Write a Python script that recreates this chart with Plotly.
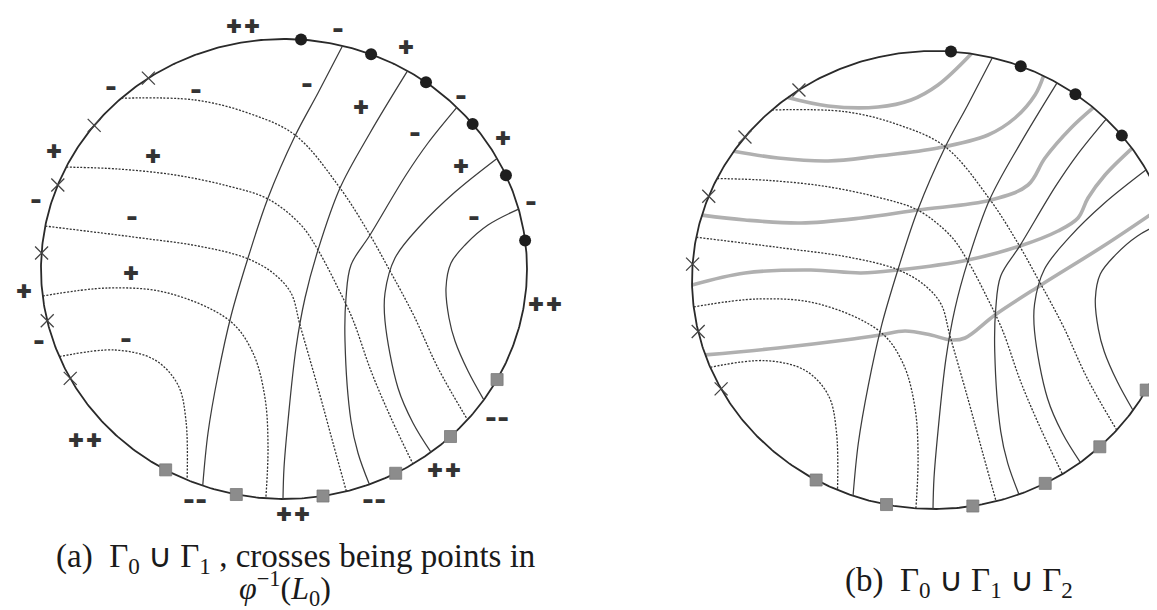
import math
import plotly.graph_objects as go

# ---- panel geometry (ellipse centre / radii in page pixels) ----
PANEL_A = (276, 261, 243, 230)
PANEL_B = (926, 272, 242, 229)

# ---- Gamma_0 : solid curves (read in panel (a) pixels) ----
S1 = [(334, 40), (310, 85), (287, 128), (260, 190), (240, 250), (223, 308), (210, 367), (200, 425), (195, 477)]
S2 = [(397, 67), (362, 125), (332, 180), (310, 242), (297, 290), (288, 340), (280, 413), (276, 460), (275, 490)]
S3 = [(445, 103), (420, 135), (398, 167), (362, 227), (343, 257), (338, 290), (337, 333), (343, 413), (350, 445), (360, 473)]
S4 = [(484, 153), (447, 184), (413, 217), (387, 250), (377, 285), (377, 313), (390, 380), (405, 415), (422, 443)]
S5 = [(507, 202), (480, 217), (458, 236), (443, 255), (438, 280), (441, 310), (447, 333), (460, 363), (473, 390)]
GAMMA0 = [S1, S2, S3, S4, S5]

# ---- Gamma_1 : dotted curves (panel (a) pixels) ----
D1 = [(113, 90), (187, 92), (240, 105), (287, 127), (332, 180), (362, 227), (382, 263), (393, 283), (407, 310), (430, 360), (455, 408)]
D2 = [(58, 159), (110, 161), (167, 167), (220, 178), (260, 191), (293, 217), (310, 242), (330, 280), (345, 312), (363, 363), (383, 410), (403, 453)]
D3 = [(37, 218), (133, 230), (190, 238), (238, 250), (265, 265), (283, 285), (292, 317), (310, 380), (325, 435), (338, 482)]
D4 = [(35, 288), (100, 280), (160, 285), (222, 313), (245, 345), (257, 390), (260, 440), (258, 488)]
D5 = [(53, 348), (107, 342), (147, 352), (170, 377), (178, 413), (180, 470)]
GAMMA1 = [D1, D2, D3, D4, D5]

# ---- Gamma_2 : grey curves (panel (b) pixels) ----
G1 = [(780, 90), (820, 98), (870, 99), (903, 92), (930, 77), (963, 48)]
G2 = [(727, 144), (770, 150), (820, 153), (870, 148), (930, 140), (980, 127), (1007, 110), (1027, 87), (1036, 67)]
G3 = [(697, 208), (737, 212), (793, 215), (853, 210), (910, 202), (983, 192), (1020, 177), (1037, 150), (1063, 120), (1085, 100)]
G4 = [(685, 277), (737, 265), (803, 262), (853, 265), (890, 262), (960, 252), (1012, 238), (1050, 223), (1070, 210), (1080, 190), (1097, 167), (1120, 143)]
G5 = [(697, 347), (770, 340), (837, 332), (872, 327), (897, 323), (923, 327), (943, 332), (957, 330), (987, 307), (1033, 277), (1097, 237), (1155, 198)]
GAMMA2 = [G1, G2, G3, G4, G5]

# ---- boundary marks (panel (a) pixels) ----
DOTS = [(293, 32), (362, 49), (416, 77), (462, 118), (494, 169), (513, 233)]
SQUARES = [(157, 463), (228, 488), (315, 488), (387, 464), (441, 427), (488, 371)]
CROSSES = [(141, 71), (87, 118), (50, 177), (33, 245), (38, 313), (61, 371)]

# ---- sign labels in panel (a) ----
SIGN_TEXT = ["++", "-", "+", "-", "-", "-", "-", "+", "-", "+", "+", "+", "+", "-", "-", "-", "-",
             "+", "+", "++", "-", "-", "++", "--", "++", "--", "++", "--"]
SIGN_X = [235, 330, 398, 299, 103, 188, 453, 353, 407, 495, 46, 145, 453, 28, 523, 124, 466,
          123, 16, 537, 31, 118, 77, 187, 285, 366, 436, 489]
SIGN_Y = [19, 23, 40, 78, 81, 84, 90, 100, 127, 131, 144, 149, 159, 194, 196, 211, 211,
          266, 284, 297, 335, 333, 433, 494, 507, 494, 463, 412]

CAPTION_A1 = "(a)  Γ<sub>0</sub> ∪ Γ<sub>1</sub> , crosses being points in"
CAPTION_A2 = "<i>φ</i><sup>−1</sup>(<i>L</i><sub>0</sub>)"
CAPTION_B = "(b)  Γ<sub>0</sub> ∪ Γ<sub>1</sub> ∪ Γ<sub>2</sub>"


def to_norm(pts, panel):
    cx, cy, rx, ry = panel
    return [((x - cx) / rx, (y - cy) / ry) for x, y in pts]


def snap_ends(npts):
    npts = list(npts)
    for i in (0, -1):
        u, v = npts[i]
        r = math.hypot(u, v)
        npts[i] = (u / r, v / r)
    return npts


def snap_all(npts):
    out = []
    for u, v in npts:
        r = math.hypot(u, v)
        out.append((u / r, v / r))
    return out


def to_px(npts, panel):
    cx, cy, rx, ry = panel
    return [cx + u * rx for u, v in npts], [cy + v * ry for u, v in npts]


fig = go.Figure()

INK = "#333333"

for panel in (PANEL_A, PANEL_B):
    if panel is PANEL_B:
        for g in GAMMA2:
            xs, ys = to_px(snap_ends(to_norm(g, PANEL_B)), panel)
            fig.add_trace(go.Scatter(x=xs, y=ys, mode="lines",
                                     line=dict(color="#b0b0b0", width=3.6, shape="spline", smoothing=1.0),
                                     hoverinfo="skip", showlegend=False))
    t = [2 * math.pi * i / 600 for i in range(601)]
    fig.add_trace(go.Scatter(x=[panel[0] + panel[2] * math.cos(a) for a in t],
                             y=[panel[1] + panel[3] * math.sin(a) for a in t],
                             mode="lines", line=dict(color="#2a2a2a", width=1.8),
                             hoverinfo="skip", showlegend=False))
    for c in GAMMA1:
        xs, ys = to_px(snap_ends(to_norm(c, PANEL_A)), panel)
        fig.add_trace(go.Scatter(x=xs, y=ys, mode="lines",
                                 line=dict(color=INK, width=1.3, dash="2px,1.5px", shape="spline", smoothing=1.0),
                                 hoverinfo="skip", showlegend=False))
    for c in GAMMA0:
        xs, ys = to_px(snap_ends(to_norm(c, PANEL_A)), panel)
        fig.add_trace(go.Scatter(x=xs, y=ys, mode="lines",
                                 line=dict(color="#3c3c3c", width=1.25, shape="spline", smoothing=1.0),
                                 hoverinfo="skip", showlegend=False))
    xs, ys = to_px(snap_all(to_norm(CROSSES, PANEL_A)), panel)
    fig.add_trace(go.Scatter(x=xs, y=ys, mode="markers",
                             marker=dict(symbol="x-thin", size=13, line=dict(color="#444444", width=1.3)),
                             hoverinfo="skip", showlegend=False))
    xs, ys = to_px(snap_all(to_norm(SQUARES, PANEL_A)), panel)
    fig.add_trace(go.Scatter(x=xs, y=ys, mode="markers",
                             marker=dict(symbol="square", size=12, color="#8c8c8c",
                                         line=dict(color="#7a7a7a", width=0.8)),
                             hoverinfo="skip", showlegend=False))
    xs, ys = to_px(snap_all(to_norm(DOTS, PANEL_A)), panel)
    fig.add_trace(go.Scatter(x=xs, y=ys, mode="markers",
                             marker=dict(symbol="circle", size=12, color="#1e1e1e"),
                             hoverinfo="skip", showlegend=False))

fig.add_trace(go.Scatter(x=SIGN_X, y=SIGN_Y, mode="text", text=SIGN_TEXT,
                         textposition="middle center",
                         textfont=dict(family="Inter", size=26, color="#333333", weight=900),
                         hoverinfo="skip", showlegend=False))

SERIF = "Liberation Serif"
fig.add_annotation(x=287, y=550, text=CAPTION_A1, showarrow=False,
                   font=dict(family=SERIF, size=33, color="#1a1a1a"), xanchor="center", yanchor="middle")
fig.add_annotation(x=277, y=580, text=CAPTION_A2, showarrow=False,
                   font=dict(family=SERIF, size=32, color="#1a1a1a"), xanchor="center", yanchor="middle")
fig.add_annotation(x=951, y=574, text=CAPTION_B, showarrow=False,
                   font=dict(family=SERIF, size=33, color="#1a1a1a"), xanchor="center", yanchor="middle")

fig.update_layout(width=1157, height=610, margin=dict(l=0, r=0, t=0, b=0),
                  paper_bgcolor="white", plot_bgcolor="white",
                  xaxis=dict(range=[0, 1157], visible=False, fixedrange=True),
                  yaxis=dict(range=[610, 0], visible=False, fixedrange=True),
                  showlegend=False)

fig.write_html("out.html", config={"displayModeBar": False})
